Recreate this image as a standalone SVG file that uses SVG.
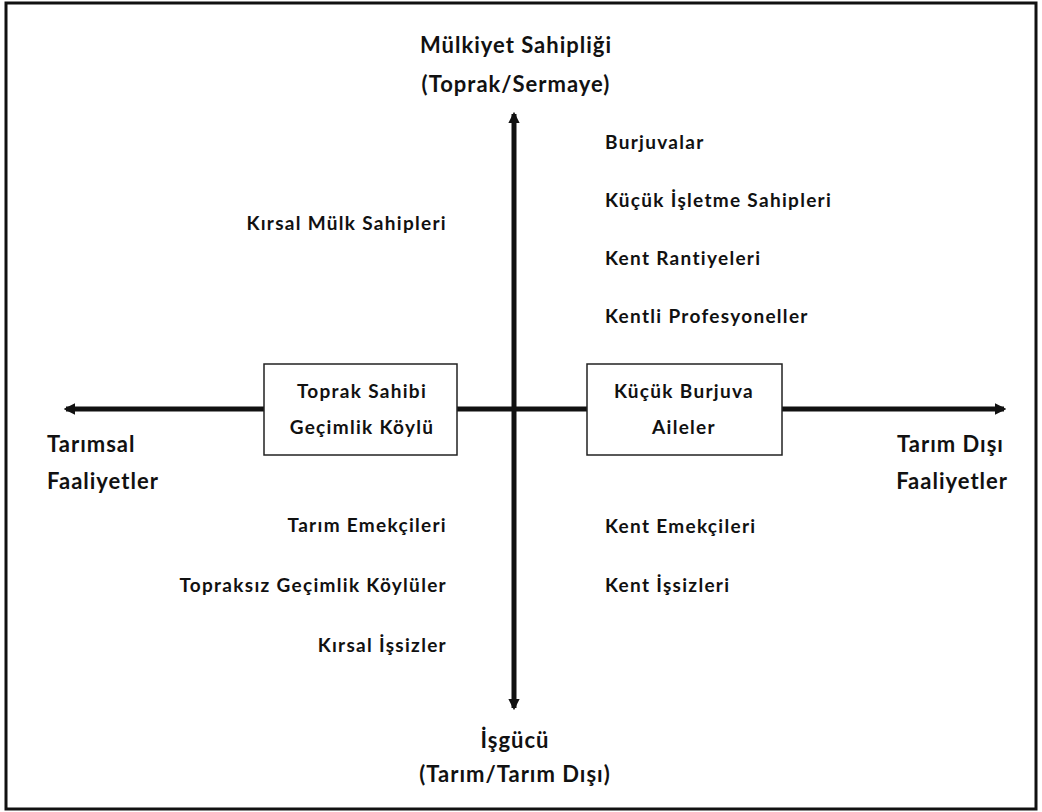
<svg xmlns="http://www.w3.org/2000/svg" width="1042" height="812" viewBox="0 0 1042 812">
<defs>
<style>
text{font-family:Lato,"Open Sans","Noto Sans",sans-serif;font-weight:bold;fill:#111}
.t{font-size:22px;letter-spacing:1px;text-anchor:middle}
.b{font-size:19px;letter-spacing:1.3px}
.r{text-anchor:end}
.m{text-anchor:middle}
.ax{stroke:#111;stroke-width:5;fill:none}
.box{fill:#fff;stroke:#222;stroke-width:1.5}
</style>
<marker id="ah" viewBox="0 0 10 10" refX="8" refY="5" markerWidth="2.3" markerHeight="2.3" orient="auto-start-reverse" markerUnits="strokeWidth">
<path d="M0,0 L10,5 L0,10 Z" fill="#111"/>
</marker>
</defs>
<rect x="0" y="0" width="1042" height="812" fill="#fff"/>
<rect id="frame" x="6" y="3" width="1030" height="806" fill="none" stroke="#111" stroke-width="3"/>
<g id="connectors">
<line class="ax" x1="514" y1="114" x2="514" y2="708" marker-start="url(#ah)" marker-end="url(#ah)"/>
<line class="ax" x1="66" y1="409" x2="1004" y2="409" marker-start="url(#ah)" marker-end="url(#ah)"/>
</g>
<g id="axis-top"><text class="t" x="516" y="53">Mülkiyet Sahipliği</text><text class="t" x="516" y="92">(Toprak/Sermaye)</text></g>
<g id="axis-bottom"><text class="t" x="515" y="748">İşgücü</text><text class="t" x="515" y="782">(Tarım/Tarım Dışı)</text></g>
<g id="axis-left"><text class="t" x="47" y="452" style="text-anchor:start">Tarımsal</text><text class="t" x="47" y="489" style="text-anchor:start">Faaliyetler</text></g>
<g id="axis-right"><text class="t" x="1004" y="452" style="text-anchor:end">Tarım Dışı</text><text class="t" x="1008" y="489" style="text-anchor:end">Faaliyetler</text></g>
<g id="box-left"><rect class="box" x="264" y="364" width="193" height="91"/><text class="b m" x="362" y="398">Toprak Sahibi</text><text class="b m" x="362" y="434">Geçimlik Köylü</text></g>
<g id="box-right"><rect class="box" x="587" y="364" width="195" height="91"/><text class="b m" x="684" y="398">Küçük Burjuva</text><text class="b m" x="684" y="434">Aileler</text></g>
<g id="q-top-left"><text class="b r" x="447" y="230">Kırsal Mülk Sahipleri</text></g>
<g id="q-top-right">
<text class="b" x="605" y="149">Burjuvalar</text>
<text class="b" x="605" y="207">Küçük İşletme Sahipleri</text>
<text class="b" x="605" y="265">Kent Rantiyeleri</text>
<text class="b" x="605" y="323">Kentli Profesyoneller</text>
</g>
<g id="q-bottom-left">
<text class="b r" x="447" y="532">Tarım Emekçileri</text>
<text class="b r" x="447" y="592">Topraksız Geçimlik Köylüler</text>
<text class="b r" x="447" y="652">Kırsal İşsizler</text>
</g>
<g id="q-bottom-right">
<text class="b" x="605" y="533">Kent Emekçileri</text>
<text class="b" x="605" y="592">Kent İşsizleri</text>
</g>
</svg>
